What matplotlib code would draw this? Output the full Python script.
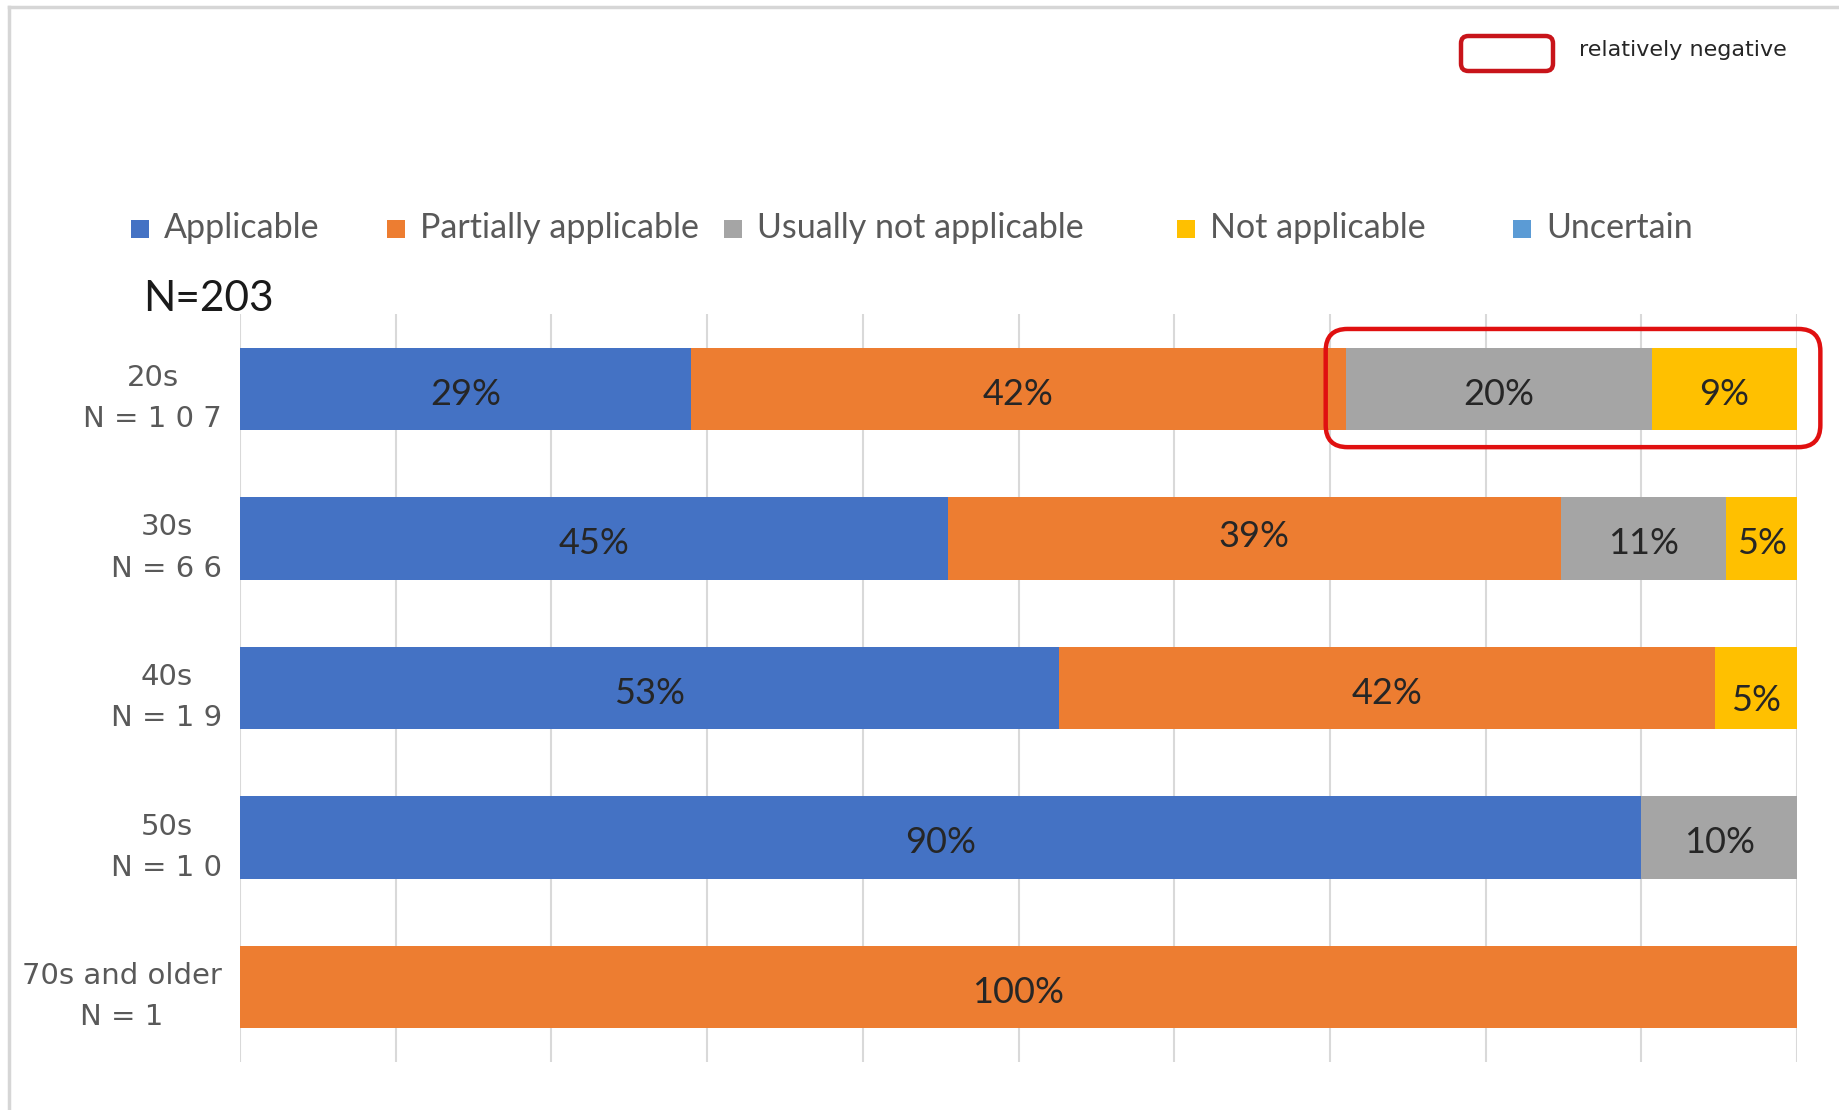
import numpy as np
import matplotlib.pyplot as plt
from matplotlib.patches import Rectangle, FancyBboxPatch
from matplotlib.lines import Line2D

# data (percent of each age group)
groups = ['20s\nN = 1 0 7', '30s\nN = 6 6', '40s\nN = 1 9', '50s\nN = 1 0', '70s and older\nN = 1']
series = ['Applicable', 'Partially applicable', 'Usually not applicable', 'Not applicable', 'Uncertain']
applicable = [28.97, 45.45, 52.63, 90.0, 0.0]
partially = [42.06, 39.39, 42.11, 0.0, 100.0]
usually_not = [19.63, 10.61, 0.0, 10.0, 0.0]
not_applicable = [9.35, 4.55, 5.26, 0.0, 0.0]
uncertain = [0.0, 0.0, 0.0, 0.0, 0.0]
total_n = 203

colors = ['#4472C4', '#ED7D31', '#A5A5A5', '#FFC000', '#5B9BD5']
values = [applicable, partially, usually_not, not_applicable, uncertain]

W, H = 1839, 1110
fig = plt.figure(figsize=(W / 100, H / 100), dpi=100)


def fx(px):
    return px / W


def fy(py):
    return 1 - py / H


ax = fig.add_axes([fx(240), fy(1062), fx(1797) - fx(240), fy(314) - fy(1062)])

y = np.arange(len(groups))
left = np.zeros(len(groups))
# small nudges seen on a couple of labels in the original
label_nudge = {(1, 1): -0.01, (2, 3): 0.085}
for s, (name, vals, col) in enumerate(zip(series, values, colors)):
    vals = np.array(vals)
    ax.barh(y, vals, left=left, height=0.55, color=col, zorder=3)
    for i, v in enumerate(vals):
        if v > 0:
            ax.text(left[i] + v / 2, y[i] + label_nudge.get((i, s), 0.035), f'{v:.0f}%',
                    ha='center', va='center', fontsize=26, family='Lato',
                    color='#262626', zorder=4)
    left = left + vals

ax.set_xlim(0, 100)
ax.set_ylim(4.5, -0.5)
ax.set_xticks(np.arange(0, 101, 10))
ax.xaxis.grid(True, color='#D9D9D9', lw=1.5, zorder=0)
ax.tick_params(axis='x', length=0, labelbottom=False)
ax.tick_params(axis='y', length=0, pad=13)
ax.set_yticks(y)
ax.set_yticklabels(groups, fontsize=21, color='#595959', linespacing=1.6,
                   multialignment='center', family='DejaVu Sans')
for sp in ax.spines.values():
    sp.set_visible(False)

# red box around the negative answers of the 20s
x0 = applicable[0] + partially[0] - 1.3
box = FancyBboxPatch((x0, -0.4), 101.5 - x0, 0.79,
                     boxstyle='round,pad=0,rounding_size=1.4', mutation_aspect=0.105,
                     fill=False, edgecolor='#E01010', lw=3.2, clip_on=False, zorder=5)
ax.add_patch(box)

# legend row
marker_x = [131, 387, 724, 1177, 1513]
for name, col, mx in zip(series, colors, marker_x):
    fig.patches.append(Rectangle((fx(mx), fy(238)), 18 / W, 18 / H, transform=fig.transFigure,
                                 facecolor=col, edgecolor='none'))
    fig.text(fx(mx + 33), fy(228), name, fontsize=24.5, family='Lato', color='#595959',
             ha='left', va='center')

fig.text(fx(143), fy(299), f'N={total_n}', fontsize=30.5, family='Lato', color='#1a1a1a',
         ha='left', va='center')

# "relatively negative" key
fig.patches.append(FancyBboxPatch((fx(1461), fy(71)), fx(1553) - fx(1461), fy(36) - fy(71),
                                  boxstyle='round,pad=0,rounding_size=0.004', mutation_aspect=W / H,
                                  transform=fig.transFigure, fill=False, edgecolor='#C8141A', lw=3.2))
fig.text(fx(1579), fy(50), 'relatively negative', fontsize=16, family='DejaVu Sans',
         color='#262626', ha='left', va='center')

# light frame on left and top
fig.lines.append(Line2D([fx(9), fx(9)], [0, fy(7)], transform=fig.transFigure, color='#D6D6D6', lw=2.5))
fig.lines.append(Line2D([fx(9), 1], [fy(7), fy(7)], transform=fig.transFigure, color='#D6D6D6', lw=2.5))

fig.savefig('out.png', dpi=100)
